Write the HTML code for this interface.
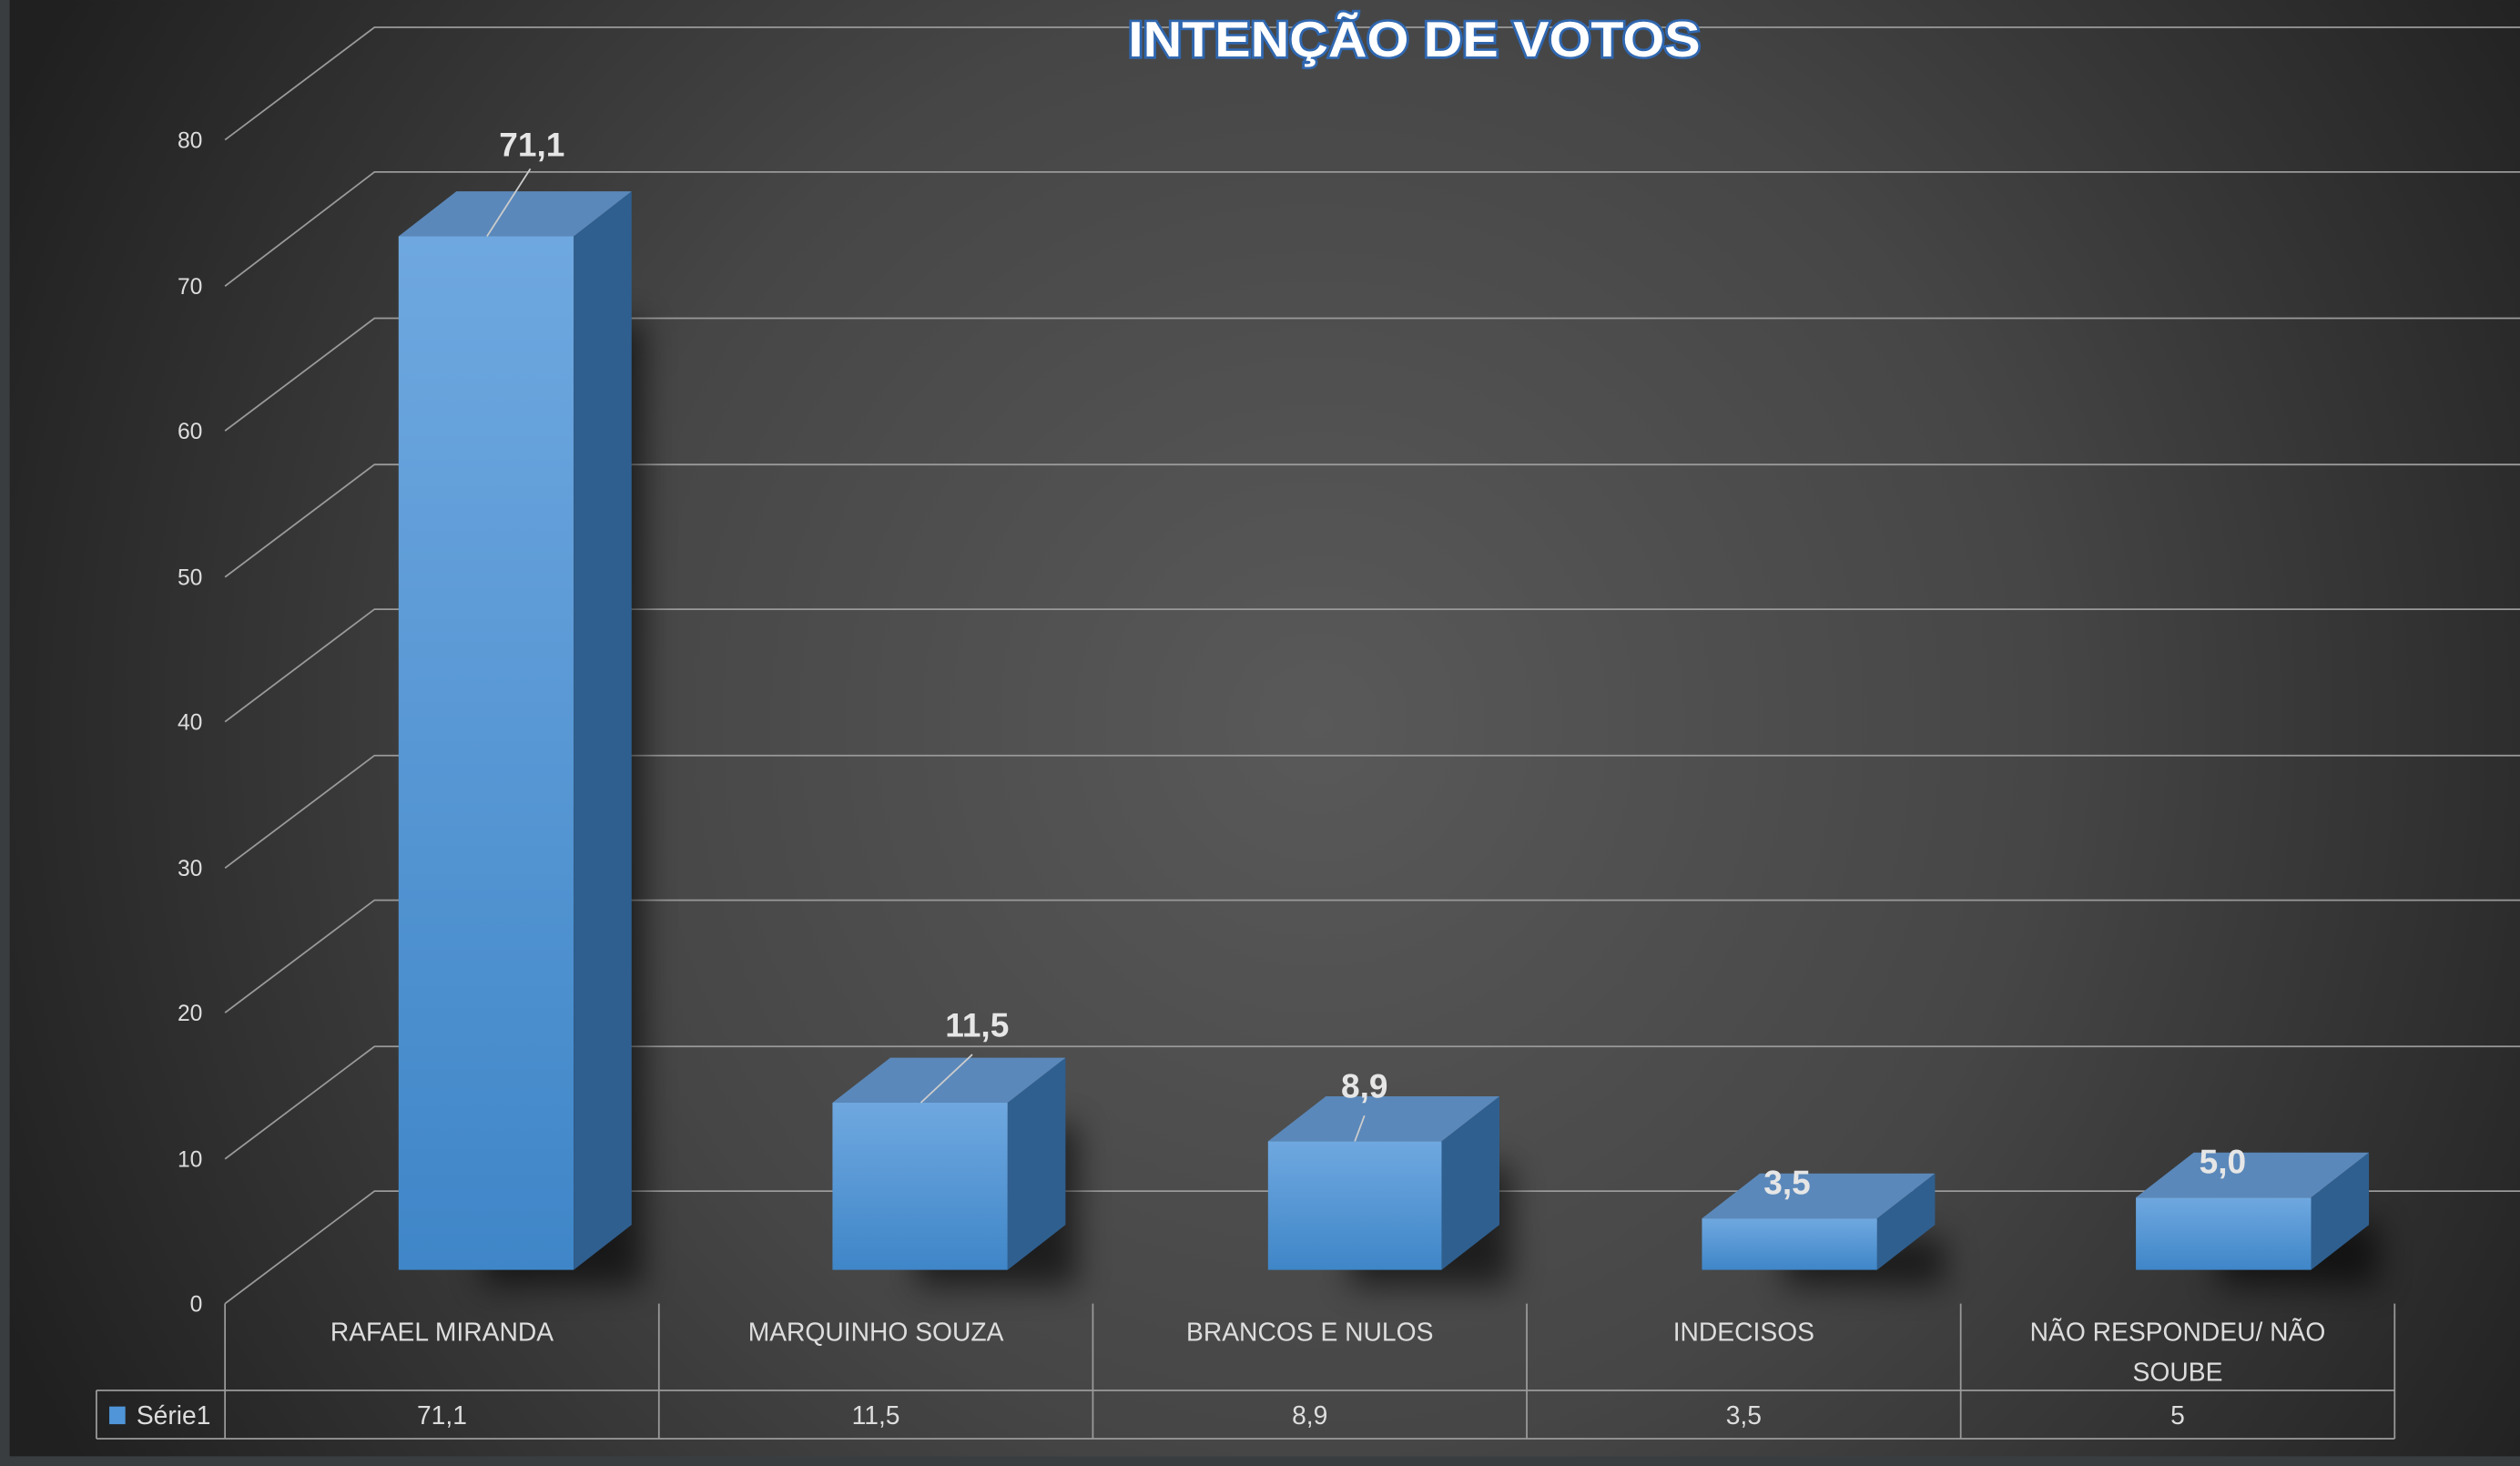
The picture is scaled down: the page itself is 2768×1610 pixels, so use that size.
<!DOCTYPE html>
<html><head><meta charset="utf-8"><style>
html,body{margin:0;padding:0;background:#3a3d40;}
svg{display:block}
text{font-family:"Liberation Sans",sans-serif;}
</style></head><body>
<svg width="2768" height="1610" viewBox="0 0 1568 912" xmlns="http://www.w3.org/2000/svg">
<defs>
<radialGradient id="bg" cx="820" cy="450" r="900" gradientUnits="userSpaceOnUse">
<stop offset="0" stop-color="#595959"/><stop offset="0.5" stop-color="#464646"/><stop offset="1" stop-color="#202020"/>
</radialGradient>
<linearGradient id="fr" x1="0" y1="0" x2="0" y2="1"><stop offset="0" stop-color="#6fa8e0"/><stop offset="1" stop-color="#3f86c8"/></linearGradient>
<filter id="bl" x="-50%" y="-50%" width="200%" height="200%"><feGaussianBlur stdDeviation="10"/></filter>
</defs>
<rect width="1568" height="912" fill="#3a3d40"/>
<rect x="6" y="0" width="1562" height="906" fill="url(#bg)"/>
<g stroke="#9a9a9a" stroke-width="1" fill="none">
<path d="M140 811L233 741H1568M140 721L233 651H1568M140 630L233 560H1568M140 540L233 470H1568M140 449L233 379H1568M140 359L233 289H1568M140 268L233 198H1568M140 178L233 107H1568M140 87L233 17H1568"/>
<path d="M140 811V895M410 811V895M680 811V895M950 811V895M1220 811V895M1490 811V865M1490 865V895M60 865H1490M60 895H1490M60 865V895"/>
</g>
<g fill="#ddd" font-size="14" text-anchor="end">
<text x="126" y="816">0</text><text x="126" y="726">10</text><text x="126" y="635">20</text><text x="126" y="545">30</text><text x="126" y="454">40</text><text x="126" y="364">50</text><text x="126" y="273">60</text><text x="126" y="183">70</text><text x="126" y="92">80</text>
</g>
<g fill="#000" opacity="0.6" filter="url(#bl)">
<rect x="300" y="200" width="100" height="600"/>
<rect x="570" y="700" width="100" height="100"/>
<rect x="840" y="725" width="100" height="75"/>
<rect x="1110" y="770" width="100" height="30"/>
<rect x="1380" y="760" width="100" height="40"/>
</g>
<g id="bars">
<rect x="248" y="147" width="109" height="643" fill="url(#fr)"/><path d="M357 147L393 119V762L357 790Z" fill="#2f5f8f"/><path d="M248 147L284 119H393L357 147Z" fill="#5b88ba"/>
<rect x="518" y="686" width="109" height="104" fill="url(#fr)"/><path d="M627 686L663 658V762L627 790Z" fill="#2f5f8f"/><path d="M518 686L554 658H663L627 686Z" fill="#5b88ba"/>
<rect x="789" y="710" width="108" height="80" fill="url(#fr)"/><path d="M897 710L933 682V762L897 790Z" fill="#2f5f8f"/><path d="M789 710L825 682H933L897 710Z" fill="#5b88ba"/>
<rect x="1059" y="758" width="109" height="32" fill="url(#fr)"/><path d="M1168 758L1204 730V762L1168 790Z" fill="#2f5f8f"/><path d="M1059 758L1095 730H1204L1168 758Z" fill="#5b88ba"/>
<rect x="1329" y="745" width="109" height="45" fill="url(#fr)"/><path d="M1438 745L1474 717V762L1438 790Z" fill="#2f5f8f"/><path d="M1329 745L1365 717H1474L1438 745Z" fill="#5b88ba"/>
</g>
<g stroke="#ccc" stroke-width="1"><path d="M303 147L330 105M573 686L605 656M843 710L849 694"/></g>
<g fill="#e6e6e6" font-size="21" font-weight="bold" text-anchor="middle">
<text x="331" y="97">71,1</text><text x="608" y="645">11,5</text><text x="849" y="683">8,9</text><text x="1112" y="743">3,5</text><text x="1383" y="730">5,0</text>
</g>
<g fill="#ddd" font-size="16" text-anchor="middle">
<text x="275" y="834">RAFAEL MIRANDA</text><text x="545" y="834">MARQUINHO SOUZA</text><text x="815" y="834">BRANCOS E NULOS</text><text x="1085" y="834">INDECISOS</text><text x="1355" y="834">NÃO RESPONDEU/ NÃO</text><text x="1355" y="859">SOUBE</text>
<text x="275" y="886">71,1</text><text x="545" y="886">11,5</text><text x="815" y="886">8,9</text><text x="1085" y="886">3,5</text><text x="1355" y="886">5</text>
<text x="108" y="886">Série1</text>
</g>
<rect x="68" y="875" width="10" height="11" fill="#4f95d8"/>
<text x="880" y="35" text-anchor="middle" font-size="31" font-weight="bold" fill="#fff" stroke="#2f67b0" stroke-width="3" paint-order="stroke" textLength="356" lengthAdjust="spacingAndGlyphs">INTENÇÃO DE VOTOS</text>
</svg>
</body></html>
